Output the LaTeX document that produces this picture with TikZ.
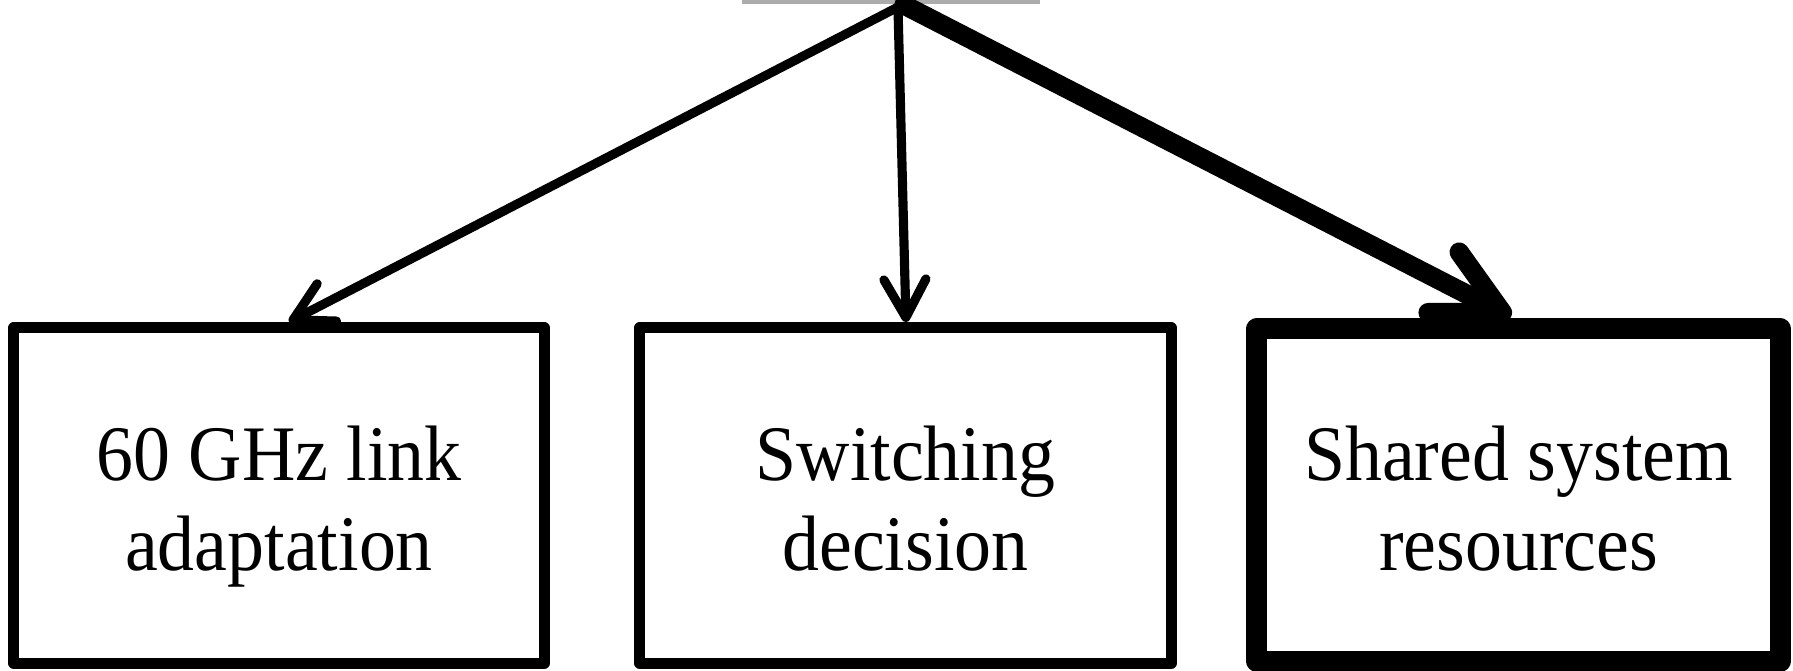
\documentclass[tikz,border=0pt]{standalone}
\usepackage{fontspec}
\usepackage{graphicx}
\setmainfont{Liberation Serif}
\usetikzlibrary{arrows.meta}
% two-line label, set slightly tall
\newcommand{\boxlabel}[2]{\scalebox{1}[1.065]{\fontsize{21}{24}\selectfont
  \begin{tabular}[t]{@{}c@{}}#1\\#2\end{tabular}}}
\begin{document}
\begin{tikzpicture}[x=0.01cm,y=-0.01cm,
  box/.style={draw, line width=3.1pt, line join=round, rectangle, inner sep=0pt},
  boxtext/.style={anchor=base, inner sep=0pt},
  thinarrow/.style={line width=2.6pt, line cap=round,
    -{Straight Barb[length=0.38cm, width=0.42cm, line cap=round, line join=round]}},
  thickarrow/.style={line width=5.5pt, line cap=round,
    -{Straight Barb[length=0.66cm, width=0.68cm, line cap=round, line join=round]}}]
  \useasboundingbox (0,0) rectangle (1793,671);

  % lower edge of the parent block above
  \draw[gray!65, line width=1.2pt] (742,1.5) -- (1040,1.5);
  \coordinate (top) at (902,5);

  \node[box, minimum width=5.30cm, minimum height=3.35cm] (link) at (279,495.5) {};
  \node[box, minimum width=5.31cm, minimum height=3.35cm] (switch) at (905.5,495.5) {};
  \node[box, line width=6pt, minimum width=5.23cm, minimum height=3.32cm] (shared) at (1518.5,495) {};

  \node[boxtext] (linktext) at (link.center |- 0,481) {\boxlabel{60 GHz link}{adaptation}};
  \node[boxtext] (switchtext) at (switch.center |- 0,481) {\boxlabel{Switching}{decision}};
  \node[boxtext] (sharedtext) at (shared.center |- 0,481) {\boxlabel{Shared system}{resources}};

  \draw[thinarrow] (top) -- (289,322);
  \draw[thinarrow] (898,8) -- (906,322);
  \draw[thickarrow] (904,5) -- (1511,317);
\end{tikzpicture}
\end{document}
